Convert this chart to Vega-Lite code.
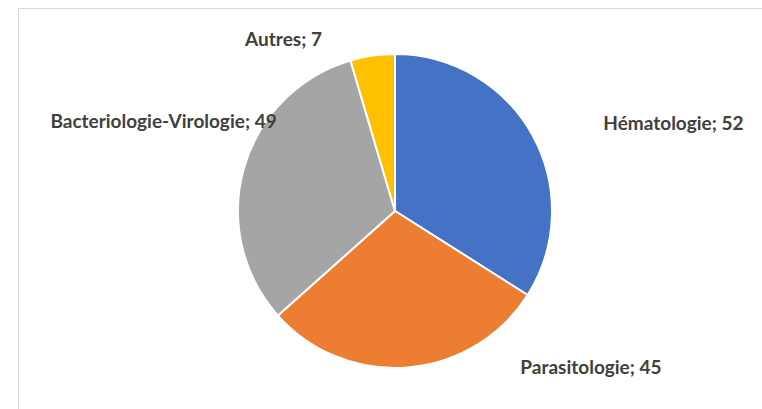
{
  "$schema": "https://vega.github.io/schema/vega-lite/v6.json",
  "autosize": "none",
  "width": 754,
  "height": 406,
  "padding": {"left": 18, "top": 8, "right": -10, "bottom": -5},
  "view": {"stroke": "#D9D9D9", "strokeWidth": 1},
  "background": "white",
  "data": {
    "values": [
      {"cat": "Hématologie", "n": 52, "rang": 1, "label": "Hématologie; 52"},
      {"cat": "Parasitologie", "n": 45, "rang": 2, "label": "Parasitologie; 45"},
      {"cat": "Bacteriologie-Virologie", "n": 49, "rang": 3, "label": "Bacteriologie-Virologie; 49"},
      {"cat": "Autres", "n": 7, "rang": 4, "label": "Autres; 7"}
    ]
  },
  "encoding": {
    "theta": {"field": "n", "type": "quantitative", "stack": true},
    "order": {"field": "rang", "type": "quantitative"}
  },
  "layer": [
    {
      "mark": {"type": "arc", "outerRadius": 157, "stroke": "white", "strokeWidth": 2},
      "encoding": {
        "color": {
          "field": "cat", "type": "nominal",
          "scale": {"domain": ["Hématologie", "Parasitologie", "Bacteriologie-Virologie", "Autres"],
                    "range": ["#4472C4", "#ED7D31", "#A5A5A5", "#FFC000"]},
          "legend": null
        }
      }
    },
    {
      "mark": {"type": "text", "radius": 175, "align": "left", "baseline": "middle", "dx": 55, "dy": -3,
               "font": "Lato", "fontWeight": "bold", "fontSize": 19, "fill": "#404040"},
      "encoding": {
        "detail": {"field": "cat", "type": "nominal"},
        "text": {"condition": {"test": "datum.cat === 'Hématologie'", "field": "label", "type": "nominal"}, "value": ""}
      }
    },
    {
      "mark": {"type": "text", "radius": 175, "align": "left", "baseline": "middle", "dx": 111, "dy": -17,
               "font": "Lato", "fontWeight": "bold", "fontSize": 19, "fill": "#404040"},
      "encoding": {
        "detail": {"field": "cat", "type": "nominal"},
        "text": {"condition": {"test": "datum.cat === 'Parasitologie'", "field": "label", "type": "nominal"}, "value": ""}
      }
    },
    {
      "mark": {"type": "text", "radius": 175, "align": "right", "baseline": "middle", "dx": 50, "dy": -41,
               "font": "Lato", "fontWeight": "bold", "fontSize": 19, "fill": "#404040"},
      "encoding": {
        "detail": {"field": "cat", "type": "nominal"},
        "text": {"condition": {"test": "datum.cat === 'Bacteriologie-Virologie'", "field": "label", "type": "nominal"}, "value": ""}
      }
    },
    {
      "mark": {"type": "text", "radius": 175, "align": "right", "baseline": "middle", "dx": -48, "dy": 2,
               "font": "Lato", "fontWeight": "bold", "fontSize": 19, "fill": "#404040"},
      "encoding": {
        "detail": {"field": "cat", "type": "nominal"},
        "text": {"condition": {"test": "datum.cat === 'Autres'", "field": "label", "type": "nominal"}, "value": ""}
      }
    }
  ]
}
